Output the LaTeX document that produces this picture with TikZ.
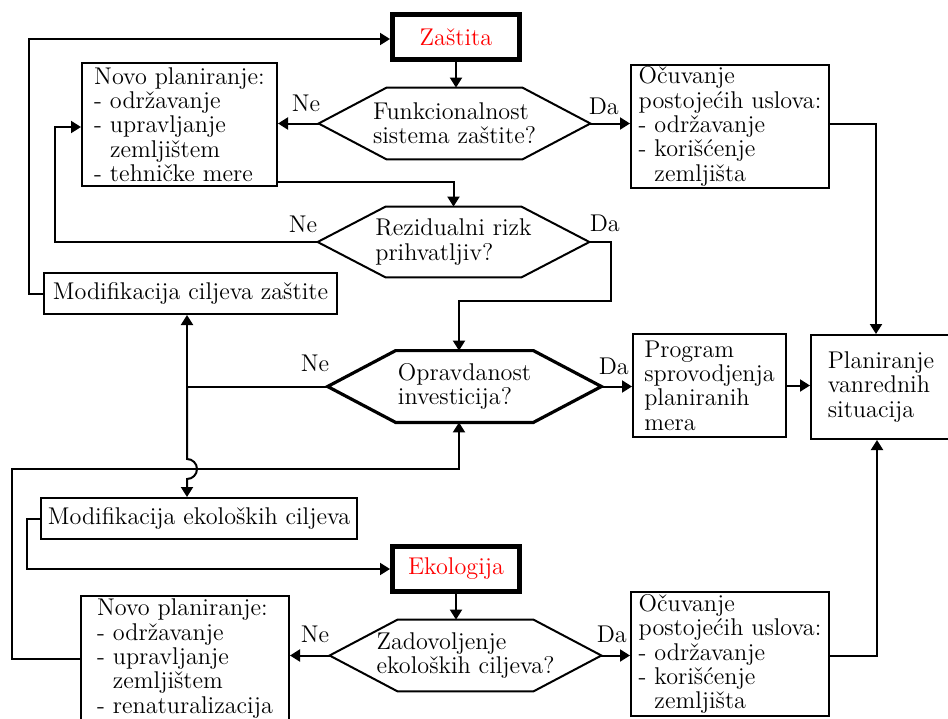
\documentclass[tikz,border=0pt]{standalone}
\usetikzlibrary{arrows.meta, positioning}

% outline of a decision node (pointed left and right)
\newcommand{\hexframe}[2][]{%
  \draw[line width=1pt, #1] (#2.west) -- ([xshift=34pt]#2.north west)
    -- ([xshift=-34pt]#2.north east) -- (#2.east)
    -- ([xshift=-34pt]#2.south east) -- ([xshift=34pt]#2.south west) -- cycle;}

\begin{document}
\begin{tikzpicture}[
      x=0.5pt, y=-0.5pt,
      font=\fontsize{12.1pt}{12.15pt}\selectfont,
      box/.style={draw, line width=1pt, align=left, inner sep=0pt},
      title/.style={draw, line width=2.3pt, text=red, minimum width=63.7pt, minimum height=22.7pt},
      hexnode/.style={align=left, inner sep=0pt, minimum width=135.5pt, minimum height=35.5pt},
      lbl/.style={inner sep=0pt},
      edge/.style={-{Triangle[length=5pt, width=6pt]}, line width=1pt}
    ]
    \useasboundingbox (0,0) rectangle (948,718);

    % upper part
    \node[title] (zastita) at (456,37) {Zaštita};
    \node[hexnode] (hexA) at (454.5,123.5) {Funkcionalnost\\sistema zaštite?};
    \hexframe{hexA}
    \node[box, minimum width=97.5pt, minimum height=61.5pt] (novoA) at (179.5,124.5)
      {Novo planiranje:\\- održavanje\\- upravljanje\\\phantom{- }zemljištem\\- tehničke mere};
    \node[box, minimum width=99pt, minimum height=61.5pt] (ocuvA) at (730,126.5)
      {Očuvanje\\postojećih uslova:\\- održavanje\\- korišćenje\\\phantom{- }zemljišta};
    \node[hexnode, minimum height=35pt] (hexB) at (453.5,242) {Rezidualni rizk\\prihvatljiv?};
    \hexframe{hexB}
    \node[box, minimum width=146.5pt, minimum height=20.5pt] (modA) at (190.5,293.5)
      {Modifikacija ciljeva zaštite};

    % middle part
    \node[hexnode, minimum width=136.5pt] (hexC) at (464.5,386.5) {Opravdanost\\investicija?};
    \hexframe[line width=1.6pt]{hexC}
    \node[box, minimum width=76.5pt, minimum height=51.5pt] (program) at (709.5,385.5)
      {Program\\sprovodjenja\\planiranih\\mera};
    \node[box, minimum width=70pt, minimum height=52pt] (plan) at (881,387)
      {Planiranje\\vanrednih\\situacija};
    \node[box, minimum width=158pt, minimum height=20.5pt] (modB) at (199,518.5)
      {Modifikacija ekoloških ciljeva};

    % lower part
    \node[title] (ekologija) at (456,569) {Ekologija};
    \node[hexnode] (hexD) at (465.5,655.5) {Zadovoljenje\\ekoloških ciljeva?};
    \hexframe{hexD}
    \node[box, minimum width=104pt, minimum height=62.5pt] (novoB) at (185,658.5)
      {Novo planiranje:\\- održavanje\\- upravljanje\\\phantom{- }zemljištem\\- renaturalizacija};
    \node[box, minimum width=99pt, minimum height=62pt] (ocuvB) at (730,654)
      {Očuvanje\\postojećih uslova:\\- održavanje\\- korišćenje\\\phantom{- }zemljišta};

    % Ne / Da
    \node[lbl, above left=5.5pt and -1pt of hexA.west] (neA) {Ne};
    \node[lbl, above right=4pt and -1pt of hexA.east] (daA) {Da};
    \node[lbl, above left=4.5pt and 0pt of hexB.west] (neB) {Ne};
    \node[lbl, above right=5pt and 0pt of hexB.east] (daB) {Da};
    \node[lbl, above left=7pt and -1pt of hexC.west] (neC) {Ne};
    \node[lbl, above right=5.5pt and -1.5pt of hexC.east] (daC) {Da};
    \node[lbl, above left=6pt and 0pt of hexD.west] (neD) {Ne};
    \node[lbl, above right=6pt and -2.5pt of hexD.east] (daD) {Da};

    \coordinate (split) at (187,386.5);

    \draw[edge] (zastita.south) -- (zastita.south |- hexA.north);
    \draw[edge] (hexA.west) -- (hexA.west -| novoA.east);
    \draw[edge] (hexA.east) -- (hexA.east -| ocuvA.west);
    \draw[edge] ([yshift=1.5pt]ocuvA.east) -| ([xshift=-2.5pt]plan.north);
    \draw[edge] ([yshift=2.5pt]novoA.south east) -| (hexB.north);
    \draw[edge] (hexB.west) -| ([xshift=-13pt, yshift=-1.25pt]novoA.west) -- ([yshift=-1.25pt]novoA.west);
    \draw[edge] (hexB.east) -- ++(11pt,0) |- ([xshift=-2.75pt, yshift=25pt]hexC.north)
      -- ([xshift=-2.75pt]hexC.north);
    \draw[edge] (modA.west) -- ++(-7pt,0) |- ([yshift=-1pt]zastita.west);
    \draw[edge] (hexC.west) -- (split) -- (split |- modA.south);
    \draw[edge] (split) -- ++(0,-36.25pt) arc[start angle=90, end angle=-90, radius=5pt]
      -- (split |- modB.north);
    \draw[edge] (novoB.west) -- ++(-34pt,0) |- ([xshift=-2.75pt, yshift=-23.5pt]hexC.south)
      -- ([xshift=-2.75pt]hexC.south);
    \draw[edge] (hexC.east) -- (hexC.east -| program.west);
    \draw[edge] (program.east) -- (program.east -| plan.west);
    \draw[edge] (modB.west) -- ++(-6.5pt,0) |- (ekologija.west);
    \draw[edge] (ekologija.south) -- (ekologija.south |- hexD.north);
    \draw[edge] (hexD.west) -- (hexD.west -| novoB.east);
    \draw[edge] (hexD.east) -- (hexD.east -| ocuvB.west);
    \draw[edge] ([yshift=-1pt]ocuvB.east) -| ([xshift=-2pt]plan.south);
\end{tikzpicture}
\end{document}
